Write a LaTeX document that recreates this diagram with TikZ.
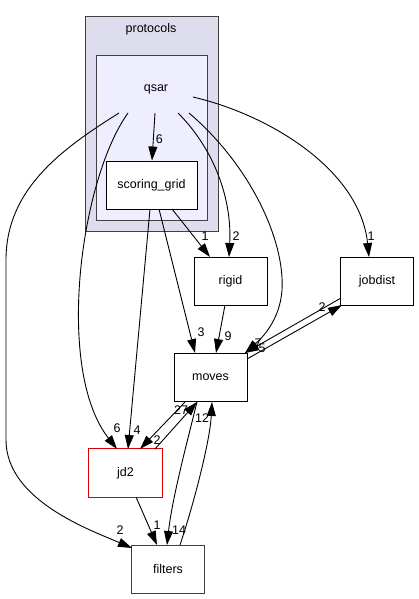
\documentclass[tikz,border=0pt]{standalone}
\usepackage{fontspec}
\setmainfont{Liberation Sans}
\usetikzlibrary{arrows.meta}
\definecolor{clA}{HTML}{DDDDEE}
\definecolor{clB}{HTML}{EEEEFF}
\definecolor{bordgray}{HTML}{404040}
\definecolor{redb}{RGB}{220,0,0}
\begin{document}
\begin{tikzpicture}[x=1pt,y=-1pt,
  every node/.style={font=\fontsize{12.5}{14}\selectfont},
  dirbox/.style={fill=white,minimum width=73pt,minimum height=48pt,inner sep=0pt,line width=0.9pt},
  blackbox/.style={dirbox,draw=black},
  redbox/.style={dirbox,draw=none},
  graybox/.style={dirbox,draw=bordgray},
  edge/.style={draw=black,line width=0.9pt,-{Triangle[length=14pt,width=9pt]}},
  lbl/.style={inner sep=0pt}]
\useasboundingbox (0,0) rectangle (419,599);
\fill[white] (0,0) rectangle (419,599);
% clusters
\draw[draw=bordgray,fill=clA,line width=0.9pt] (85,16) rectangle (218,231);
\node (protocols) at (151,29) {protocols};
\draw[draw=bordgray,fill=clB,line width=0.9pt] (96,55) rectangle (207,220);
\node (qsar) at (156,89) {qsar};
% nodes
\node[blackbox,minimum width=91pt] (sg) at (151.5,185) {scoring\_grid};
\node[blackbox] (rigid) at (230.5,281) {rigid};
\node[blackbox] (jobdist) at (377,281) {jobdist};
\node[blackbox] (moves) at (210.5,377.5) {moves};
\node[redbox] (jd2) at (125.5,473) {jd2};
\draw[redb,line width=1.1pt] (jd2.north west) -- (jd2.north east) -- (jd2.south east) -- (jd2.south west) -- cycle;
\node[graybox] (filters) at (168,569) {filters};
% edges from qsar
\draw[edge] (155,113) -- (sg.north -| 152,0) node[lbl,pos=0.55,right=2pt] {6};
\draw[edge] (128,113) .. controls (80,180) and (55,370) .. (117,449);
\node[lbl] (l6a) at (117,428) {6};
\draw[edge] (119,113) .. controls (60,150) and (6,190) .. (6,260) -- (6,440) .. controls (6,500) and (90,530) .. (132,548);
\node[lbl] (l2a) at (120,530) {2};
\draw[edge] (178,113) .. controls (215,150) and (232,200) .. (229,257);
\node[lbl] (l2b) at (236,236) {2};
\draw[edge] (189,113) .. controls (250,165) and (285,240) .. (282,290) .. controls (280,320) and (262,338) .. (245,353);
\draw[edge] (193,97) .. controls (270,115) and (360,170) .. (369,257);
\node[lbl] (l1a) at (371,236) {1};
% from scoring_grid
\draw[edge] (172,209) -- (210,257);
\node[lbl] (l1b) at (205,236) {1};
\draw[edge] (159,209) -- (195,353);
\node[lbl] (l3) at (201,332) {3};
\draw[edge] (150,209) -- (128,449);
\node[lbl] (l4) at (137,430) {4};
% rigid -> moves
\draw[edge] (225,305) -- (216,353);
\node[lbl] (l9) at (228,336) {9};
% moves <-> jobdist
\draw[edge] (341,298) -- (245,353);
\draw[edge] (247,359) -- (342,305);
\node[lbl] (l2c) at (322,307) {2};
\node[lbl] (l7) at (258,343) {7};
\node[lbl] (l5) at (262,348) {5};
% moves <-> jd2
\draw[edge] (185,402) -- (140,449);
\node[lbl] (l2d) at (157,440) {2};
\draw[edge] (155,449) -- (197,402);
\node[lbl] (l27) at (181,410) {27};
% moves <-> filters
\draw[edge] (197,402) .. controls (185,450) and (172,500) .. (167,545);
\node[lbl] (l14) at (179,530) {14};
\draw[edge] (180,545) .. controls (195,500) and (210,440) .. (212,402);
\node[lbl] (l12) at (202,418) {12};
% jd2 -> filters
\draw[edge] (136,497) -- (157,545);
\node[lbl] (l1c) at (157,525) {1};
\end{tikzpicture}
\end{document}
